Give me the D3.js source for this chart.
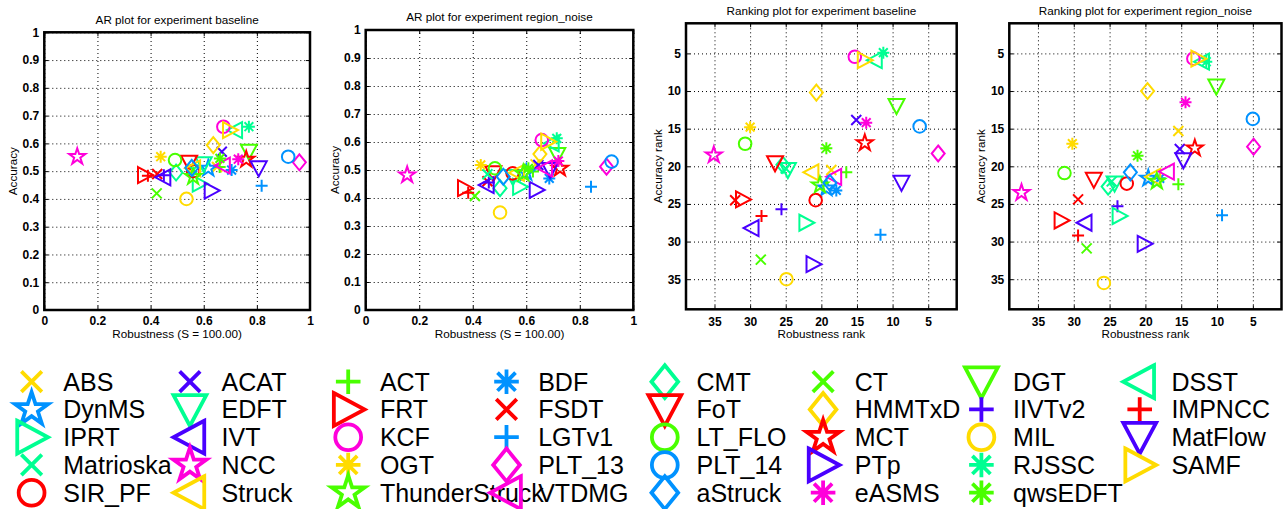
<!DOCTYPE html>
<html>
<head>
<meta charset="utf-8">
<script src="https://cdn.jsdelivr.net/npm/d3@7"></script>
<style>
  body { margin: 0; background: #fff; }
  svg { display: block; font-family: "Liberation Sans", Arial, Helvetica, sans-serif; }
</style>
</head>
<body>
<script>
// trackers in legend order
const trackers = ['ABS', 'ACAT', 'ACT', 'BDF', 'CMT', 'CT', 'DGT', 'DSST',
  'DynMS', 'EDFT', 'FRT', 'FSDT', 'FoT', 'HMMTxD', 'IIVTv2', 'IMPNCC',
  'IPRT', 'IVT', 'KCF', 'LGTv1', 'LT_FLO', 'MCT', 'MIL', 'MatFlow',
  'Matrioska', 'NCC', 'OGT', 'PLT_13', 'PLT_14', 'PTp', 'RJSSC', 'SAMF',
  'SIR_PF', 'Struck', 'ThunderStruck', 'VTDMG', 'aStruck', 'eASMS', 'qwsEDFT'];

const trackerMarker = ['x', 'x', '+', '*', 'd', 'x', 'v', '<',
  'p', 'v', '>', 'x', 'v', 'd', '+', '+',
  '>', '<', 'o', '+', 'o', 'p', 'o', 'v',
  'x', 'p', '*', 'd', 'o', '>', '*', '>',
  'o', '<', 'p', '<', 'd', '*', '*'];

const trackerColor = ['gold', 'violet', 'green', 'azure', 'spring', 'green', 'green', 'spring',
  'azure', 'spring', 'red', 'red', 'red', 'gold', 'violet', 'red',
  'spring', 'violet', 'magenta', 'azure', 'green', 'red', 'gold', 'violet',
  'spring', 'magenta', 'gold', 'magenta', 'azure', 'violet', 'spring', 'gold',
  'red', 'gold', 'green', 'magenta', 'azure', 'magenta', 'green'];

// AR plot, experiment baseline
const baseRobustness = [0.65, 0.668, 0.66, 0.705, 0.496, 0.423, 0.77, 0.718,
  0.617, 0.6, 0.379, 0.425, 0.545, 0.636, 0.45, 0.39,
  0.585, 0.448, 0.674, 0.818, 0.492, 0.76, 0.535, 0.807,
  0.56, 0.124, 0.438, 0.96, 0.918, 0.63, 0.77, 0.699,
  0.56, 0.56, 0.56, 0.672, 0.555, 0.73, 0.661];
const baseAccuracy = [0.515, 0.57, 0.515, 0.504, 0.495, 0.42, 0.57, 0.648,
  0.51, 0.525, 0.486, 0.49, 0.53, 0.594, 0.485, 0.483,
  0.455, 0.478, 0.66, 0.447, 0.54, 0.542, 0.4, 0.51,
  0.505, 0.552, 0.552, 0.532, 0.552, 0.43, 0.66, 0.648,
  0.5, 0.51, 0.48, 0.52, 0.512, 0.543, 0.546];

// AR plot, experiment region_noise
const noiseRobustness = [0.635, 0.645, 0.625, 0.686, 0.502, 0.408, 0.716, 0.695,
  0.6, 0.55, 0.371, 0.455, 0.477, 0.651, 0.46, 0.383,
  0.577, 0.452, 0.658, 0.842, 0.483, 0.726, 0.502, 0.689,
  0.455, 0.155, 0.43, 0.9, 0.919, 0.639, 0.714, 0.682,
  0.549, 0.565, 0.589, 0.67, 0.514, 0.72, 0.608];
const noiseAccuracy = [0.52, 0.518, 0.495, 0.47, 0.435, 0.407, 0.554, 0.595,
  0.49, 0.475, 0.435, 0.46, 0.488, 0.557, 0.455, 0.419,
  0.44, 0.446, 0.607, 0.44, 0.506, 0.506, 0.348, 0.5,
  0.485, 0.482, 0.518, 0.512, 0.53, 0.429, 0.613, 0.601,
  0.488, 0.49, 0.488, 0.506, 0.476, 0.532, 0.506];

// Ranking plot, experiment baseline
const baseRobustRank = [18.6, 15.1, 16.5, 17.9, 25.4, 28.5, 9.45, 12.5,
  19.3, 24.7, 31.0, 32.1, 26.5, 20.7, 25.6, 28.4,
  22.1, 29.8, 15.3, 11.7, 30.7, 13.9, 24.9, 8.75,
  25.0, 35.1, 30.0, 3.6, 6.2, 21.1, 11.3, 13.9,
  20.8, 21.4, 20.2, 18.2, 18.8, 13.7, 19.3];
const baseAccuracyRank = [20.5, 13.85, 20.8, 23.2, 19.8, 32.4, 12.0, 5.9,
  22.9, 20.5, 24.4, 24.5, 19.6, 10.2, 25.7, 26.6,
  27.5, 28.2, 5.44, 29.1, 17.0, 16.9, 35.0, 22.2,
  20.3, 18.5, 14.8, 18.3, 14.7, 33.0, 4.9, 5.9,
  24.5, 20.8, 22.5, 21.4, 22.2, 14.2, 17.6];

// Ranking plot, experiment region_noise
const noiseRobustRank = [15.4, 15.2, 15.4, 18.0, 25.2, 28.2, 10.1, 12.1,
  19.6, 24.3, 31.7, 29.4, 27.2, 19.7, 23.9, 29.4,
  23.6, 28.5, 13.3, 9.3, 31.3, 13.1, 25.8, 14.7,
  24.7, 37.3, 30.2, 4.9, 5.0, 20.1, 11.5, 12.6,
  22.6, 18.9, 18.4, 17.0, 22.1, 14.4, 21.1];
const noiseAccuracyRank = [15.3, 17.7, 22.4, 21.6, 22.7, 30.9, 9.4, 6.1,
  21.6, 22.3, 27.2, 24.4, 21.8, 10.0, 25.3, 29.2,
  26.6, 27.5, 5.7, 26.5, 20.9, 17.6, 35.5, 19.2,
  22.0, 23.5, 17.0, 17.4, 13.7, 30.3, 6.1, 5.7,
  22.3, 21.4, 22.0, 20.7, 20.8, 11.5, 18.6];

const arTicksX = [0, 0.2, 0.4, 0.6, 0.8, 1];
const arTicksY = [0, 0.1, 0.2, 0.3, 0.4, 0.5, 0.6, 0.7, 0.8, 0.9, 1];
const rankTicks = [35, 30, 25, 20, 15, 10, 5];

const palette = {
  red: '#ff0000', gold: '#ffdb00', green: '#49ff00', spring: '#00ff92',
  azure: '#0092ff', violet: '#4900ff', magenta: '#ff00db',
};

const width = 1283;
const height = 509;
const svg = d3.select('body').append('svg')
  .attr('width', width)
  .attr('height', height);

function markerPath(type, s) {
  const p = d3.path();
  if (type === 'o') {
    p.moveTo(6.3 * s, 0);
    p.arc(0, 0, 6.3 * s, 0, 2 * Math.PI);
  } else if (type === 'd') {
    p.moveTo(0, -8 * s); p.lineTo(6.5 * s, 0); p.lineTo(0, 8 * s); p.lineTo(-6.5 * s, 0); p.closePath();
  } else if (type === 'v') {
    p.moveTo(-8 * s, -7 * s); p.lineTo(8 * s, -7 * s); p.lineTo(0, 8 * s); p.closePath();
  } else if (type === '>') {
    p.moveTo(-7 * s, -8 * s); p.lineTo(8 * s, 0); p.lineTo(-7 * s, 8 * s); p.closePath();
  } else if (type === '<') {
    p.moveTo(7 * s, -8 * s); p.lineTo(-8 * s, 0); p.lineTo(7 * s, 8 * s); p.closePath();
  } else if (type === 'p') {
    const R = 8.5 * s;
    const r = R * 0.382;
    d3.range(10).forEach(k => {
      const a = -Math.PI / 2 + k * Math.PI / 5;
      const rr = k % 2 ? r : R;
      if (k === 0) p.moveTo(rr * Math.cos(a), rr * Math.sin(a));
      else p.lineTo(rr * Math.cos(a), rr * Math.sin(a));
    });
    p.closePath();
  } else if (type === 'x') {
    const h = 5 * s;
    p.moveTo(-h, -h); p.lineTo(h, h); p.moveTo(-h, h); p.lineTo(h, -h);
  } else if (type === '+') {
    const h = 6 * s;
    p.moveTo(-h, 0); p.lineTo(h, 0); p.moveTo(0, -h); p.lineTo(0, h);
  } else if (type === '*') {
    const h = 6 * s;
    const q = 4.4 * s;
    p.moveTo(-h, 0); p.lineTo(h, 0); p.moveTo(0, -h); p.lineTo(0, h);
    p.moveTo(-q, -q); p.lineTo(q, q); p.moveTo(-q, q); p.lineTo(q, -q);
  }
  return p.toString();
}

const panels = [
  { title: 'AR plot for experiment baseline', kind: 'ar', box: [44.3, 32.3, 310, 310],
    titleY: 23.5, xs: baseRobustness, ys: baseAccuracy },
  { title: 'AR plot for experiment region_noise', kind: 'ar', box: [365.7, 30, 633.3, 310],
    titleY: 20.5, xs: noiseRobustness, ys: noiseAccuracy },
  { title: 'Ranking plot for experiment baseline', kind: 'rank', box: [686, 23.3, 956.7, 309.3],
    titleY: 14.5, xs: baseRobustRank, ys: baseAccuracyRank },
  { title: 'Ranking plot for experiment region_noise', kind: 'rank', box: [1009.3, 23.3, 1281.5, 309.3],
    titleY: 14.5, xs: noiseRobustRank, ys: noiseAccuracyRank },
];

function styleTicks(sel, size) {
  sel.select('.domain').remove();
  sel.selectAll('text')
    .attr('font-family', '"Liberation Sans", Arial, Helvetica, sans-serif')
    .attr('font-size', size)
    .attr('font-weight', 'bold')
    .attr('fill', '#000');
  sel.selectAll('line').attr('stroke', '#000');
}

function drawPanel(p) {
  const [x0, y0, x1, y1] = p.box;
  const ar = p.kind === 'ar';
  const x = d3.scaleLinear().domain(ar ? [0, 1] : [39, 1]).range([x0, x1]);
  const y = d3.scaleLinear().domain(ar ? [0, 1] : [1, 39]).range(ar ? [y1, y0] : [y0, y1]);
  const xt = ar ? arTicksX : rankTicks;
  const yt = ar ? arTicksY : rankTicks;
  const fmt = ar ? (d => (d === 0 || d === 1 ? String(d) : d.toFixed(1))) : d3.format('d');
  const g = svg.append('g');

  // dotted grid
  g.append('g')
    .attr('transform', `translate(0,${y1})`)
    .call(d3.axisBottom(x).tickValues(xt).tickSize(-(y1 - y0)).tickFormat(''))
    .call(s => {
      s.select('.domain').remove();
      s.selectAll('line').attr('stroke', '#000').attr('stroke-dasharray', '1,3');
    });
  g.append('g')
    .attr('transform', `translate(${x0},0)`)
    .call(d3.axisLeft(y).tickValues(yt).tickSize(-(x1 - x0)).tickFormat(''))
    .call(s => {
      s.select('.domain').remove();
      s.selectAll('line').attr('stroke', '#000').attr('stroke-dasharray', '1,3');
    });

  // axes with inward ticks
  g.append('g')
    .attr('transform', `translate(0,${y1})`)
    .call(d3.axisBottom(x).tickValues(xt).tickSizeInner(-4).tickSizeOuter(0)
      .tickPadding(ar ? 6.5 : 8).tickFormat(fmt))
    .call(s => styleTicks(s, 12));
  g.append('g')
    .attr('transform', `translate(0,${y0})`)
    .call(d3.axisTop(x).tickValues(xt).tickSizeInner(-4).tickSizeOuter(0).tickFormat(''))
    .call(s => styleTicks(s, 12));
  g.append('g')
    .attr('transform', `translate(${x0},0)`)
    .call(d3.axisLeft(y).tickValues(yt).tickSizeInner(-4).tickSizeOuter(0)
      .tickPadding(5).tickFormat(fmt))
    .call(s => styleTicks(s, 12));
  g.append('g')
    .attr('transform', `translate(${x1},0)`)
    .call(d3.axisRight(y).tickValues(yt).tickSizeInner(-4).tickSizeOuter(0).tickFormat(''))
    .call(s => styleTicks(s, 12));

  // markers
  const clipId = `clip-${p.kind}-${Math.round(x0)}`;
  svg.append('clipPath').attr('id', clipId)
    .append('rect').attr('x', x0).attr('y', y0).attr('width', x1 - x0).attr('height', y1 - y0);
  g.append('g')
    .attr('clip-path', `url(#${clipId})`)
    .selectAll('path')
    .data(trackers.map((name, i) => ({ name, i, vx: p.xs[i], vy: p.ys[i] })))
    .enter()
    .append('path')
    .attr('transform', d => `translate(${x(d.vx)},${y(d.vy)})`)
    .attr('d', d => markerPath(trackerMarker[d.i], 1))
    .attr('fill', 'none')
    .attr('stroke', d => palette[trackerColor[d.i]])
    .attr('stroke-width', 2)
    .attr('stroke-linejoin', 'miter');

  // box
  g.append('rect')
    .attr('x', x0).attr('y', y0)
    .attr('width', x1 - x0).attr('height', y1 - y0)
    .attr('fill', 'none')
    .attr('stroke', '#000')
    .attr('stroke-width', 2.5);

  // labels
  g.append('text')
    .attr('x', (x0 + x1) / 2).attr('y', p.titleY)
    .attr('text-anchor', 'middle')
    .attr('font-size', 11.7)
    .text(p.title);
  g.append('text')
    .attr('x', (x0 + x1) / 2).attr('y', 337.5)
    .attr('text-anchor', 'middle')
    .attr('font-size', 11.7)
    .text(ar ? 'Robustness (S = 100.00)' : 'Robustness rank');
  const lx = x0 - (ar ? 31 : 28.5);
  g.append('text')
    .attr('transform', `translate(${lx + 4},${(y0 + y1) / 2}) rotate(-90)`)
    .attr('text-anchor', 'middle')
    .attr('font-size', 11.7)
    .text(ar ? 'Accuracy' : 'Accuracy rank');
}

panels.forEach(drawPanel);

// legend: 8 columns, row-major
const legend = svg.append('g');
trackers.forEach((name, i) => {
  const col = i % 8;
  const row = Math.floor(i / 8);
  const tx = 63.3 + col * 158.3;
  const cy = 381.7 + row * 27.75;
  legend.append('text')
    .attr('x', tx).attr('y', cy + 8.8)
    .attr('font-size', 25)
    .attr('fill', '#000')
    .text(name);
  legend.append('path')
    .attr('transform', `translate(${tx - 31.7},${cy})`)
    .attr('d', markerPath(trackerMarker[i], 2.05))
    .attr('fill', 'none')
    .attr('stroke', palette[trackerColor[i]])
    .attr('stroke-width', 3.8);
});
</script>
</body>
</html>
